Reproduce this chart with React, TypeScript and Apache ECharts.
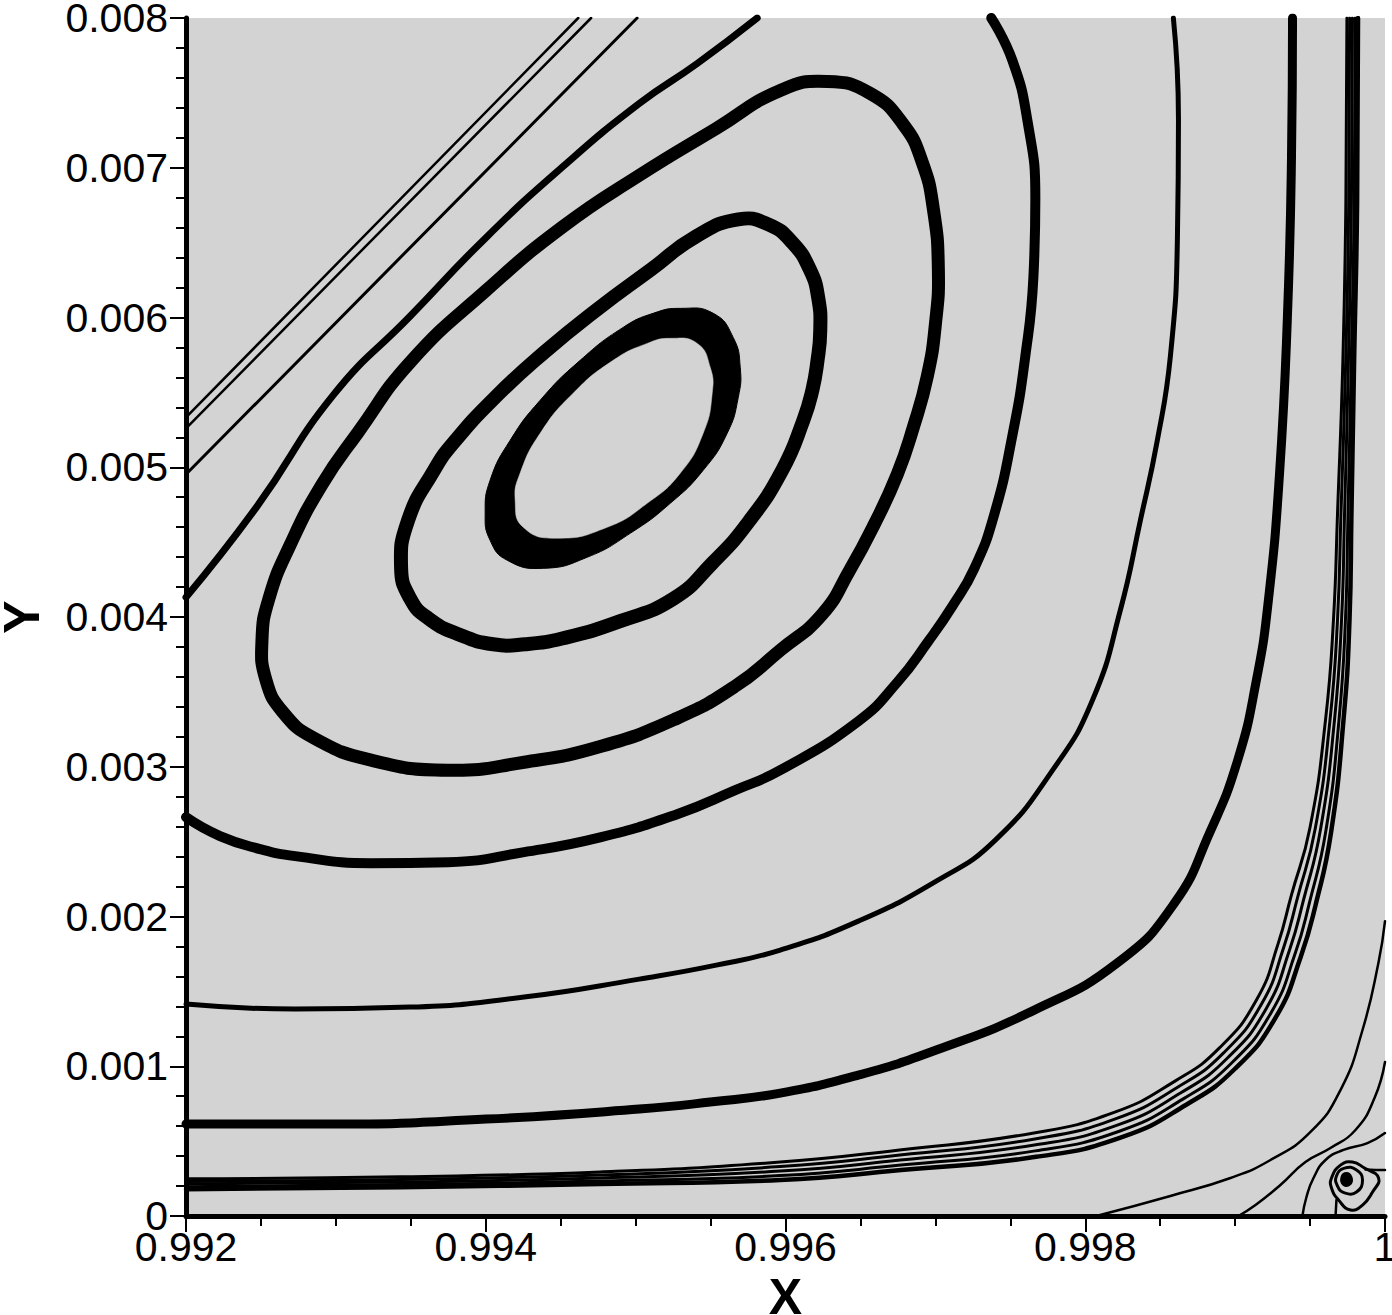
import React, { useEffect, useRef } from "react";
import * as echarts from "echarts";

type P = [number, number];

// Tick labels
const xTickValues = [0.992, 0.994, 0.996, 0.998, 1];
const xTickLabels = ["0.992", "0.994", "0.996", "0.998", "1"];
const yTickValues = [0, 0.001, 0.002, 0.003, 0.004, 0.005, 0.006, 0.007, 0.008];
const yTickLabels = ["0", "0.001", "0.002", "0.003", "0.004", "0.005", "0.006", "0.007", "0.008"];

// Innermost (thick) closed streamline: outer and inner edge
const ring1Outer: P[] = [
  [0.995298, 0.006061], [0.995518, 0.006028], [0.995651, 0.005867], [0.995698, 0.005667],
  [0.995685, 0.005467], [0.995611, 0.005227], [0.995451, 0.00498], [0.995231, 0.004759],
  [0.994964, 0.004559], [0.994677, 0.004399], [0.994383, 0.004325], [0.994143, 0.004379],
  [0.994029, 0.004512], [0.993996, 0.004693], [0.994029, 0.004913], [0.994163, 0.00518],
  [0.994363, 0.005447], [0.99463, 0.005714], [0.994917, 0.005934], [0.995117, 0.006028],
];
const ring1Inner: P[] = [
  [0.995231, 0.005861], [0.995411, 0.005827], [0.995498, 0.005667], [0.995511, 0.005494],
  [0.995451, 0.005227], [0.995298, 0.00496], [0.995077, 0.004759], [0.99481, 0.004599],
  [0.994476, 0.004526], [0.99425, 0.004599], [0.994196, 0.004779], [0.994229, 0.00496],
  [0.994363, 0.005227], [0.994583, 0.005494], [0.99485, 0.005714], [0.995077, 0.005827],
];
// Further closed streamlines
const ring2: P[] = [
  [0.995685, 0.006655], [0.995885, 0.006622], [0.996045, 0.006501], [0.996165, 0.006315],
  [0.996219, 0.006128], [0.996232, 0.005914], [0.996212, 0.005701], [0.996179, 0.005514],
  [0.996119, 0.005313], [0.995978, 0.00498], [0.995751, 0.004632], [0.995511, 0.004359],
  [0.995257, 0.004125], [0.994897, 0.003972], [0.994516, 0.003858], [0.994263, 0.003818],
  [0.994049, 0.003818], [0.993816, 0.003885], [0.993615, 0.003992], [0.993495, 0.004125],
  [0.993435, 0.004332], [0.993482, 0.004646], [0.993655, 0.00498], [0.993776, 0.005153],
  [0.994056, 0.00546], [0.99439, 0.005767], [0.994743, 0.006054], [0.995104, 0.006321],
  [0.995404, 0.006542],
];
const ring3: P[] = [
  [0.995538, 0.007262], [0.995965, 0.007516], [0.996279, 0.007576], [0.996566, 0.007496],
  [0.996786, 0.007289], [0.996913, 0.007035], [0.996986, 0.006728], [0.99702, 0.006321],
  [0.997, 0.005954], [0.996946, 0.005607], [0.996853, 0.005267], [0.996746, 0.004953],
  [0.996586, 0.004606], [0.996432, 0.004319], [0.996245, 0.004018], [0.995965, 0.003778],
  [0.995665, 0.003538], [0.995277, 0.003324], [0.99477, 0.003137], [0.994256, 0.00303],
  [0.993749, 0.002977], [0.993235, 0.003044], [0.992854, 0.003191], [0.992647, 0.003364],
  [0.992534, 0.003578], [0.992507, 0.003845], [0.992554, 0.004125], [0.992694, 0.004479],
  [0.992908, 0.004886], [0.993148, 0.005233], [0.993495, 0.005701], [0.994003, 0.006181],
  [0.994516, 0.006608], [0.995024, 0.006949],
];

// Open streamlines
const curve4: P[] = [
  [0.992, 0.002663], [0.992227, 0.002537], [0.992494, 0.00245], [0.992728, 0.002403],
  [0.993235, 0.002356], [0.993749, 0.002363], [0.994256, 0.00243], [0.99477, 0.00253],
  [0.995277, 0.002683], [0.995665, 0.002844], [0.995965, 0.002977], [0.996486, 0.003304],
  [0.996746, 0.003564], [0.996953, 0.003838], [0.997113, 0.004072], [0.99726, 0.004325],
  [0.997393, 0.004686], [0.997514, 0.005213], [0.9976, 0.005741], [0.997654, 0.006268],
  [0.997667, 0.006795], [0.997614, 0.007316], [0.997514, 0.007716], [0.997373, 0.008],
];
const curve5: P[] = [
  [0.992, 0.004132], [0.992474, 0.004739], [0.992981, 0.00548], [0.993495, 0.006008],
  [0.994003, 0.006535], [0.994516, 0.007009], [0.995024, 0.007429], [0.995411, 0.007696],
  [0.995811, 0.008],
];
const curve6: P[] = [
  [0.992, 0.001415], [0.992728, 0.001382], [0.993495, 0.001395], [0.994256, 0.001462],
  [0.995024, 0.001582], [0.995538, 0.001675], [0.995965, 0.001776], [0.996486, 0.001969],
  [0.997006, 0.002236], [0.9974, 0.00251], [0.997787, 0.002984], [0.998048, 0.003444],
  [0.998234, 0.004045], [0.998368, 0.004646], [0.998481, 0.00518], [0.998568, 0.005741],
  [0.998615, 0.006535], [0.998622, 0.007322], [0.998588, 0.008],
];
const curve7: P[] = [
  [0.992, 0.000614], [0.992981, 0.000614], [0.994003, 0.000647], [0.995024, 0.000714],
  [0.995498, 0.000761], [0.995965, 0.000821], [0.996486, 0.000941], [0.997006, 0.001108],
  [0.99766, 0.001375], [0.998221, 0.001695], [0.998595, 0.002089], [0.998829, 0.002557],
  [0.999015, 0.003037], [0.999142, 0.003578], [0.999222, 0.004112], [0.999296, 0.004953],
  [0.999349, 0.006008], [0.999376, 0.007062], [0.999383, 0.008],
];

// Nearly straight lines in the upper-left corner
const diagA1: P[] = [[0.992, 0.005333], [0.994617, 0.008]];
const diagA2: P[] = [[0.992, 0.00526], [0.994703, 0.008]];
const diagB: P[] = [[0.992, 0.004953], [0.99501, 0.008]];

// Bundle of close streamlines along the walls
const bundle1: P[] = [
  [0.999746, 0.008], [0.999739, 0.006782], [0.999719, 0.005714], [0.999683, 0.004686],
  [0.999656, 0.003978], [0.999603, 0.003311], [0.999499, 0.002591], [0.999375, 0.002141],
  [0.999287, 0.001819], [0.999146, 0.001449], [0.998897, 0.001124], [0.998596, 0.000899],
  [0.998188, 0.00069], [0.997648, 0.000553], [0.996761, 0.000441], [0.995965, 0.00036],
  [0.994763, 0.000294], [0.993428, 0.000262], [0.992, 0.000248],
];
const bundle2: P[] = [
  [0.999764, 0.008], [0.999758, 0.006782], [0.999738, 0.005714], [0.999706, 0.004686],
  [0.999683, 0.003978], [0.999633, 0.003311], [0.999534, 0.002584], [0.999416, 0.002125],
  [0.999325, 0.001797], [0.999178, 0.001419], [0.998923, 0.001089], [0.998616, 0.00086],
  [0.998201, 0.000649], [0.997654, 0.000513], [0.996763, 0.000407], [0.995965, 0.00033],
  [0.994763, 0.000274], [0.993428, 0.000244], [0.992, 0.000231],
];
const bundle3: P[] = [
  [0.999783, 0.008], [0.999776, 0.006782], [0.999756, 0.005714], [0.99973, 0.004686],
  [0.99971, 0.003978], [0.999663, 0.003311], [0.999569, 0.002577], [0.999456, 0.002109],
  [0.999363, 0.001776], [0.999209, 0.001388], [0.998949, 0.001055], [0.998635, 0.000821],
  [0.998214, 0.000607], [0.99766, 0.000474], [0.996766, 0.000374], [0.995965, 0.0003],
  [0.994763, 0.000254], [0.993428, 0.000227], [0.992, 0.000214],
];
const bundle4: P[] = [
  [0.999802, 0.008], [0.999795, 0.006782], [0.999775, 0.005714], [0.999753, 0.004686],
  [0.999736, 0.003978], [0.999693, 0.003311], [0.999605, 0.002569], [0.999496, 0.002093],
  [0.999401, 0.001754], [0.99924, 0.001358], [0.998975, 0.00102], [0.998654, 0.000782],
  [0.998227, 0.000566], [0.997666, 0.000435], [0.996769, 0.00034], [0.995965, 0.00027],
  [0.994763, 0.000234], [0.993428, 0.00021], [0.992, 0.000196],
];
const bundle5: P[] = [
  [0.99982, 0.008], [0.999814, 0.006782], [0.999794, 0.005714], [0.999776, 0.004686],
  [0.999763, 0.003978], [0.999723, 0.003311], [0.99964, 0.002562], [0.999537, 0.002077],
  [0.999438, 0.001732], [0.999272, 0.001328], [0.999001, 0.000985], [0.998674, 0.000743],
  [0.99824, 0.000525], [0.997672, 0.000395], [0.996771, 0.000307], [0.995965, 0.00024],
  [0.994763, 0.000214], [0.993428, 0.000192], [0.992, 0.000179],
];

// Secondary corner eddy
const corner1: P[] = [
  [1.0, 0.001969], [0.999957, 0.001695], [0.99985, 0.001242], [0.999703, 0.000841],
  [0.999503, 0.000561], [0.999236, 0.000374], [0.998969, 0.000254], [0.998568, 0.000134],
  [0.998074, 0.0],
];
const corner2: P[] = [
  [1.0, 0.001028], [0.99993, 0.000788], [0.999803, 0.000574], [0.999636, 0.000454],
  [0.999469, 0.00036], [0.999302, 0.000207], [0.999136, 0.000073], [0.999022, 0.0],
];
const corner3: P[] = [
  [1.0, 0.000554], [0.999883, 0.000487], [0.999723, 0.000441], [0.999603, 0.000374],
  [0.999523, 0.000254], [0.999476, 0.000127], [0.999449, 0.0],
];
const eddyOuter: P[] = [
  [0.999643, 0.000254], [0.999703, 0.00034], [0.999783, 0.00036], [0.999863, 0.00032],
  [0.999957, 0.000254], [0.999917, 0.00016], [0.99985, 0.000073], [0.99977, 0.00004],
  [0.99969, 0.000107], [0.999643, 0.000187],
];
const eddyMiddle: P[] = [
  [0.999676, 0.000267], [0.99973, 0.00032], [0.99981, 0.000307], [0.99985, 0.00024],
  [0.99981, 0.00016], [0.99973, 0.000154], [0.999683, 0.0002],
];
const eddyCore: P[] = [
  [0.99971, 0.00026], [0.999743, 0.000287], [0.999776, 0.00026], [0.99977, 0.000214],
  [0.999723, 0.000207],
];
const eddyStem: P[] = [[0.999676, 0.000107], [0.99967, 0.0]];
const eddyInlet: P[] = [[1.0, 0.000307], [0.999937, 0.000307], [0.99987, 0.00031]];

const FONT = "'Liberation Sans', Arial, Helvetica, sans-serif";
const GRAY = "#d3d3d3";

const openLines: { data: P[]; width: number; smooth: number | boolean }[] = [
  { data: curve4, width: 10, smooth: 0.5 },
  { data: curve5, width: 7, smooth: 0.5 },
  { data: curve6, width: 5, smooth: 0.5 },
  { data: curve7, width: 9, smooth: 0.5 },
  { data: diagA1, width: 2.5, smooth: false },
  { data: diagA2, width: 2.5, smooth: false },
  { data: diagB, width: 3, smooth: false },
  { data: bundle1, width: 3, smooth: 0.5 },
  { data: bundle2, width: 3, smooth: 0.5 },
  { data: bundle3, width: 3, smooth: 0.5 },
  { data: bundle4, width: 3, smooth: 0.5 },
  { data: bundle5, width: 4.5, smooth: 0.5 },
  { data: corner1, width: 2.5, smooth: 0.5 },
  { data: corner2, width: 2.5, smooth: 0.5 },
  { data: corner3, width: 2.5, smooth: 0.5 },
  { data: eddyStem, width: 2.5, smooth: false },
  { data: eddyInlet, width: 2.5, smooth: 0.5 },
];

const loops: { data: P[]; fill: string; stroke: string; width: number }[] = [
  { data: ring1Outer, fill: "#000", stroke: "#000", width: 1 },
  { data: ring1Inner, fill: GRAY, stroke: GRAY, width: 0.5 },
  { data: ring2, fill: "none", stroke: "#000", width: 14 },
  { data: ring3, fill: "none", stroke: "#000", width: 13 },
  { data: eddyOuter, fill: "none", stroke: "#000", width: 3 },
  { data: eddyMiddle, fill: "none", stroke: "#000", width: 3 },
  { data: eddyCore, fill: "#000", stroke: "#000", width: 2 },
];

const labelFor = (vals: number[], labels: string[]) => (v: number) => {
  const i = vals.findIndex((t) => Math.abs(t - v) < 1e-7);
  return i >= 0 ? labels[i] : "";
};

export default function App() {
  const ref = useRef<HTMLDivElement>(null);
  useEffect(() => {
    if (!ref.current) return;
    const chart = echarts.init(ref.current, null, { renderer: "svg" });
    const axisCommon = {
      type: "value" as const,
      splitLine: { show: false },
      axisLine: { show: true, onZero: false, lineStyle: { color: "#000", width: 5 } },
      axisTick: { show: true, length: 16, lineStyle: { color: "#000", width: 2 } },
    };
    const loopSeries = loops.map((l) => ({
      type: "custom",
      coordinateSystem: "cartesian2d",
      data: [l.data[0]],
      silent: true,
      clip: true,
      renderItem: (_params: any, api: any) => ({
        type: "polygon",
        shape: { points: l.data.map((p) => api.coord(p)), smooth: 0.5 },
        style: { fill: l.fill, stroke: l.stroke, lineWidth: l.width, lineJoin: "round" },
      }),
    }));
    const lineSeries = openLines.map((l) => ({
      type: "line",
      data: l.data,
      showSymbol: false,
      symbol: "none",
      smooth: l.smooth,
      silent: true,
      clip: true,
      lineStyle: { color: "#000", width: l.width, cap: "round", join: "round" },
    }));
    chart.setOption({
      animation: false,
      backgroundColor: "#ffffff",
      grid: {
        left: 186,
        top: 18,
        width: 1199,
        height: 1198,
        show: true,
        backgroundColor: GRAY,
        borderWidth: 0,
        containLabel: false,
        outerBoundsMode: "none",
      },
      xAxis: {
        ...axisCommon,
        min: 0.992,
        max: 1,
        interval: 0.002,
        minorTick: { show: true, splitNumber: 4, length: 10, lineStyle: { color: "#000", width: 2 } },
        axisLabel: {
          fontSize: 41,
          lineHeight: 34,
          color: "#000",
          fontFamily: FONT,
          margin: 14,
          showMinLabel: true,
          showMaxLabel: true,
          formatter: labelFor(xTickValues, xTickLabels),
        },
        name: "X",
        nameLocation: "middle",
        nameGap: 58,
        nameTextStyle: { fontSize: 50, lineHeight: 40, fontWeight: "bold", color: "#000", fontFamily: FONT },
      },
      yAxis: {
        ...axisCommon,
        min: 0,
        max: 0.008,
        interval: 0.001,
        minorTick: { show: true, splitNumber: 5, length: 10, lineStyle: { color: "#000", width: 2 } },
        axisLabel: {
          fontSize: 41,
          lineHeight: 34,
          color: "#000",
          fontFamily: FONT,
          margin: 18,
          showMinLabel: true,
          showMaxLabel: true,
          formatter: labelFor(yTickValues, yTickLabels),
        },
        name: "Y",
        nameLocation: "middle",
        nameGap: 144,
        nameTextStyle: { fontSize: 50, lineHeight: 40, fontWeight: "bold", color: "#000", fontFamily: FONT },
      },
      series: [...loopSeries, ...lineSeries],
    });
    return () => chart.dispose();
  }, []);
  return (
    <div
      ref={ref}
      style={{ position: "absolute", left: 0, top: 0, width: 1392, height: 1315, background: "#fff" }}
    />
  );
}
